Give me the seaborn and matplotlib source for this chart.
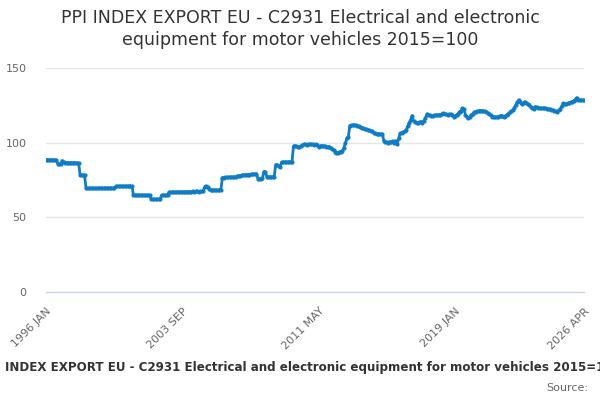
import numpy as np
import pandas as pd
import seaborn as sns
import matplotlib
matplotlib.use("Agg")
import matplotlib.pyplot as plt

# monthly index values, 1996 JAN .. 2026 APR
values_by_year = {
    1996: [88.6, 88.6, 88.5, 88.5, 88.5, 88.4, 88.4, 88.2, 85.8, 85.5, 86.0, 88.0],
    1997: [86.8, 86.7, 86.7, 86.6, 86.6, 86.6, 86.5, 86.5, 86.5, 86.4, 86.4, 78.5],
    1998: [78.4, 78.3, 78.2, 69.6, 69.5, 69.4, 69.4, 69.5, 69.5, 69.4, 69.4, 69.5],
    1999: [69.5, 69.6, 69.5, 69.5, 69.6, 69.6, 69.5, 69.6, 69.7, 69.6, 69.6, 70.7],
    2000: [70.8, 70.8, 70.8, 70.9, 70.8, 70.8, 70.9, 70.9, 70.8, 70.9, 70.9, 64.9],
    2001: [64.8, 64.8, 64.9, 64.8, 64.8, 64.9, 64.8, 64.8, 64.9, 64.8, 64.8, 62.2],
    2002: [62.1, 62.1, 62.0, 62.1, 62.1, 62.2, 64.8, 64.8, 64.9, 64.8, 64.9, 66.8],
    2003: [66.8, 66.9, 66.9, 66.9, 67.0, 67.0, 67.0, 67.1, 67.0, 67.1, 67.1, 67.2],
    2004: [67.1, 67.2, 67.2, 67.3, 67.2, 67.3, 67.3, 67.2, 67.3, 67.4, 67.3, 70.5],
    2005: [71.0, 70.2, 69.0, 68.3, 68.3, 68.2, 68.3, 68.3, 68.2, 68.3, 68.3, 76.6],
    2006: [76.6, 76.7, 76.7, 76.8, 76.8, 76.9, 77.0, 77.0, 77.1, 77.6, 77.8, 78.0],
    2007: [78.1, 78.3, 78.4, 78.5, 78.6, 78.6, 78.7, 78.8, 78.9, 79.0, 79.2, 76.0],
    2008: [75.9, 76.0, 76.1, 80.6, 80.4, 77.2, 77.1, 77.2, 77.1, 77.2, 77.3, 85.3],
    2009: [85.0, 84.2, 84.0, 86.9, 87.0, 87.1, 87.0, 87.1, 87.2, 87.1, 87.2, 97.8],
    2010: [97.9, 97.5, 97.3, 97.4, 97.6, 98.4, 98.8, 98.9, 98.7, 98.9, 99.0, 98.8],
    2011: [99.0, 98.6, 98.9, 98.2, 96.9, 97.8, 98.1, 97.6, 97.9, 97.4, 97.0, 97.3],
    2012: [96.2, 95.6, 94.8, 94.0, 93.3, 93.1, 93.6, 94.0, 94.6, 96.5, 99.6, 102.9],
    2013: [104.0, 111.4, 111.6, 111.8, 111.9, 111.7, 111.4, 111.0, 110.5, 110.0, 109.6, 109.2],
    2014: [109.0, 108.5, 108.2, 107.8, 107.5, 106.8, 106.3, 106.1, 105.9, 105.8, 105.8, 105.6],
    2015: [101.1, 100.6, 100.2, 100.0, 100.7, 100.5, 101.1, 99.6, 101.3, 98.9, 103.0, 106.3],
    2016: [106.5, 107.2, 107.6, 108.5, 111.0, 113.4, 115.2, 118.1, 114.3, 114.0, 113.5, 113.0],
    2017: [113.6, 114.1, 113.4, 114.5, 116.3, 119.2, 118.8, 118.2, 117.9, 118.1, 118.4, 118.6],
    2018: [118.5, 118.6, 118.7, 119.2, 119.7, 119.3, 118.9, 118.6, 118.9, 119.2, 118.3, 117.4],
    2019: [117.8, 118.6, 119.5, 120.8, 121.2, 123.0, 122.6, 118.6, 117.5, 116.3, 117.2, 118.6],
    2020: [119.5, 120.3, 120.8, 121.0, 121.3, 121.5, 121.4, 121.2, 121.0, 120.8, 120.0, 119.0],
    2021: [118.2, 117.4, 117.3, 117.1, 117.0, 117.5, 117.9, 118.1, 117.8, 117.4, 117.9, 118.6],
    2022: [119.5, 120.5, 121.2, 121.9, 123.5, 125.3, 127.0, 128.6, 127.5, 125.7, 126.5, 127.5],
    2023: [126.8, 126.0, 125.3, 124.2, 123.0, 122.6, 124.1, 123.8, 123.4, 123.2, 123.0, 123.0],
    2024: [123.0, 122.9, 122.8, 122.7, 122.6, 122.2, 121.8, 121.2, 121.0, 120.8, 121.6, 122.6],
    2025: [124.5, 126.4, 126.1, 125.9, 126.3, 126.6, 127.0, 127.4, 127.9, 128.8, 130.1, 128.6],
    2026: [128.4, 128.6, 128.6, 128.4],
}
month_names = ["JAN", "FEB", "MAR", "APR", "MAY", "JUN",
               "JUL", "AUG", "SEP", "OCT", "NOV", "DEC"]
y_ticks = [0, 50, 100, 150]

title = "PPI INDEX EXPORT EU - C2931 Electrical and electronic equipment for motor vehicles 2015=100"

rows = []
for year, vals in values_by_year.items():
    for i, v in enumerate(vals):
        rows.append({"label": f"{year} {month_names[i]}", "value": v})
df = pd.DataFrame(rows)
df["idx"] = np.arange(len(df))
n = len(df)

sns.set_style("white")
plt.rcParams["font.family"] = ["DejaVu Sans"]

fig = plt.figure(figsize=(6, 4), dpi=100)
ax = fig.add_axes([46 / 600, 1 - 292 / 400, (584 - 46) / 600, (292 - 68) / 400])

sns.lineplot(data=df, x="idx", y="value", ax=ax, color="#0f7cc6", linewidth=2.0,
             marker="o", markersize=3, markeredgewidth=0, zorder=3)

ax.set_xlim(0, n - 1)
ax.set_ylim(0, 150)
ax.set_xlabel("")
ax.set_ylabel("")

# ticks every 23 months plus the last month, labels on every 4th
tick_pos = list(range(0, n - 1, 23)) + [n - 1]
ax.set_xticks(tick_pos)
tick_lab = [df["label"][p] if (k % 4 == 0 or p == n - 1) else "" for k, p in enumerate(tick_pos)]
ax.set_xticklabels(tick_lab, rotation=45, ha="right", rotation_mode="anchor",
                   fontsize=8, color="#666666")
ax.tick_params(axis="x", direction="out", length=7, width=1, color="#ccd6eb", pad=3)

ax.set_yticks(y_ticks)
ax.set_yticklabels([str(t) for t in y_ticks], fontsize=8, color="#666666")
ax.tick_params(axis="y", length=0, pad=14)
ax.grid(axis="y", color="#e6e6e6", linewidth=1)
ax.grid(axis="x", visible=False)

for s in ["top", "right", "left"]:
    ax.spines[s].set_visible(False)
ax.spines["bottom"].set_color("#ccd6eb")
ax.spines["bottom"].set_linewidth(1)

fig.text(0.5, 1 - 29 / 400, "PPI INDEX EXPORT EU - C2931 Electrical and electronic\nequipment for motor vehicles 2015=100",
         ha="center", va="center", fontsize=12.5, color="#333333", linespacing=1.25)
# caption is wider than the figure, clipped at both edges as in the reference
fig.text(0.5, 1 - 367 / 400, title, ha="center", va="center", fontsize=8.6,
         color="#333333", fontweight="bold")
fig.text(588 / 600, 1 - 388 / 400, "Source:", ha="right", va="center", fontsize=8,
         color="#666666")

fig.savefig("out.png", dpi=100)
